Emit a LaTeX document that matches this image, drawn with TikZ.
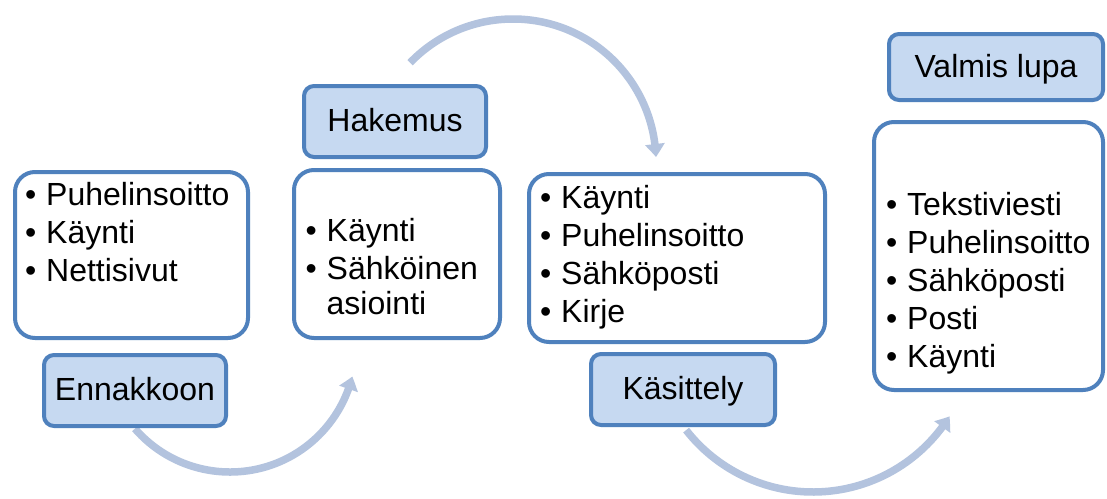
\documentclass[tikz,border=0pt]{standalone}
\usepackage{fontspec}
\setmainfont{Liberation Sans}
\usetikzlibrary{arrows.meta,bending}

\definecolor{frameblue}{RGB}{79,129,189}
\definecolor{tagfill}{RGB}{198,217,241}
\definecolor{flowblue}{RGB}{179,195,222}

\tikzset{
  listbox/.style={draw=frameblue, line width=4pt, fill=white,
    rounded corners=20pt, inner sep=0pt},
  tagbox/.style={draw=frameblue, line width=4pt, fill=tagfill,
    rounded corners=10pt, inner sep=0pt,
    font=\fontsize{32}{38}\selectfont, text height=20pt, text depth=0pt},
  items/.style={inner sep=0pt, anchor=base west,
    font=\fontsize{32}{38}\selectfont},
  flow/.style={draw=flowblue, line width=7.5pt,
    -{Triangle[width=19pt,length=13pt,bend]}},
}
\newcommand\itm{\makebox[21pt][l]{•}}

\begin{document}
\begin{tikzpicture}[x=1pt,y=-1pt]
  \useasboundingbox (0,0) rectangle (1107,498);
  \fill[white] (0,0) rectangle (1107,498);

  % centres of the curved flow arrows
  \coordinate (hubA) at (230,346);
  \coordinate (hubB) at (513,162);
  \coordinate (hubC) at (813,331);

  % curved arrows between the stages
  \draw[flow] (hubA) ++(139:126) arc[start angle=139, end angle=14, radius=126];
  \draw[flow] (hubB) ++(-136:143) arc[start angle=-136, end angle=-2, radius=143];
  \draw[flow] (hubC) ++(142:161) arc[start angle=142, end angle=32, radius=161];

  % list boxes
  \node[listbox, minimum width=233pt, minimum height=166pt] (boxA) at (131.5,255) {};
  \node[listbox, minimum width=206pt, minimum height=168pt] (boxB) at (397,254) {};
  \node[listbox, minimum width=296pt, minimum height=168pt] (boxC) at (677,258) {};
  \node[listbox, minimum width=229pt, minimum height=268pt] (boxD) at (988.5,256) {};

  % list contents
  \node[items] (listA) at (25,205) {\begin{tabular}[t]{@{}l@{}}
      \itm Puhelinsoitto\\ \itm Käynti\\ \itm Nettisivut\end{tabular}};
  \node[items] (listB) at (305.5,241) {\begin{tabular}[t]{@{}l@{}}
      \itm Käynti\\ \itm Sähköinen\\[-3pt] \hspace{21pt}asiointi\end{tabular}};
  \node[items] (listC) at (540,208) {\begin{tabular}[t]{@{}l@{}}
      \itm Käynti\\ \itm Puhelinsoitto\\ \itm Sähköposti\\ \itm Kirje\end{tabular}};
  \node[items] (listD) at (886,215) {\begin{tabular}[t]{@{}l@{}}
      \itm Tekstiviesti\\ \itm Puhelinsoitto\\ \itm Sähköposti\\
      \itm Posti\\ \itm Käynti\end{tabular}};

  % stage labels
  \node[tagbox, minimum width=182pt, minimum height=71pt] (tagA) at (135,390.5) {Ennakkoon};
  \node[tagbox, minimum width=182pt, minimum height=71pt] (tagB) at (395,121.5) {Hakemus};
  \node[tagbox, minimum width=184pt, minimum height=71pt] (tagC) at (683,389.5) {Käsittely};
  \node[tagbox, minimum width=214pt, minimum height=66pt] (tagD) at (996,67) {Valmis lupa};
\end{tikzpicture}
\end{document}
